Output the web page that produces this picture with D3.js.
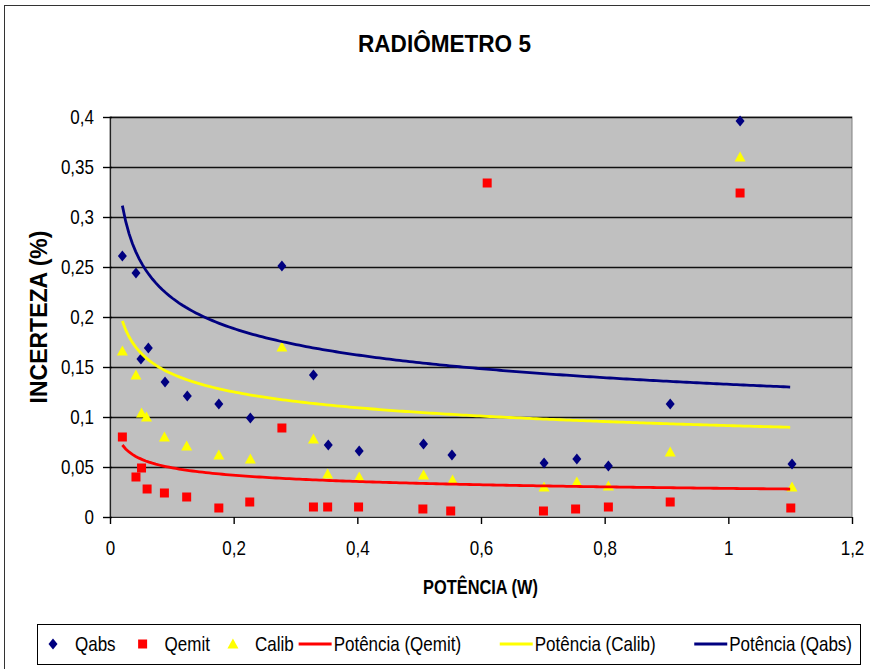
<!DOCTYPE html>
<html>
<head>
<meta charset="utf-8">
<script src="https://cdnjs.cloudflare.com/ajax/libs/d3/7.8.5/d3.min.js"></script>
<style>
body { margin: 0; background: #fff; }
text { font-family: "Liberation Sans", Arial, sans-serif; fill: #000; }
</style>
</head>
<body>
<div id="chart"></div>
<script>
// data
var potQabs = [0.020, 0.042, 0.050, 0.062, 0.089, 0.125, 0.176, 0.227, 0.278, 0.329, 0.353, 0.403, 0.507, 0.553, 0.702, 0.755, 0.806, 0.906, 1.019, 1.103];
var qabs    = [0.261, 0.244, 0.158, 0.169, 0.135, 0.121, 0.113, 0.099, 0.251, 0.142, 0.072, 0.066, 0.073, 0.062, 0.054, 0.058, 0.051, 0.113, 0.396, 0.053];

var potCalib = [0.020, 0.042, 0.051, 0.059, 0.088, 0.124, 0.176, 0.227, 0.278, 0.329, 0.352, 0.403, 0.507, 0.554, 0.702, 0.755, 0.806, 0.906, 1.019, 1.103];
var calib    = [0.166, 0.142, 0.104, 0.100, 0.080, 0.071, 0.062, 0.058, 0.170, 0.078, 0.043, 0.040, 0.042, 0.037, 0.030, 0.035, 0.031, 0.065, 0.360, 0.030];

var potQemit = [0.020, 0.042, 0.051, 0.060, 0.088, 0.124, 0.176, 0.226, 0.278, 0.329, 0.352, 0.402, 0.506, 0.551, 0.610, 0.701, 0.753, 0.806, 0.906, 1.019, 1.101];
var qemit    = [0.080, 0.040, 0.049, 0.028, 0.024, 0.020, 0.009, 0.015, 0.089, 0.010, 0.010, 0.010, 0.008, 0.006, 0.334, 0.006, 0.008, 0.010, 0.015, 0.324, 0.009];

// power trend lines (y = a * x^b), coefficients
var trendNames = ["Potência (Qemit)", "Potência (Calib)", "Potência (Qabs)"];
var trendA = [0.0286, 0.0914, 0.1327];
var trendB = [-0.236, -0.195, -0.218];
var trendRange = [0.02, 1.1];

var xTicks = [0, 0.2, 0.4, 0.6, 0.8, 1, 1.2];
var xTickLabels = ["0", "0,2", "0,4", "0,6", "0,8", "1", "1,2"];
var yTicks = [0, 0.05, 0.1, 0.15, 0.2, 0.25, 0.3, 0.35, 0.4];
var yTickLabels = ["0", "0,05", "0,1", "0,15", "0,2", "0,25", "0,3", "0,35", "0,4"];

// Set up SVG chart
var svgWidth = 870;
var svgHeight = 669;
var plot = {left: 110, top: 117, right: 852, bottom: 517};

var svg = d3.select("#chart").append("svg")
    .attr("width", svgWidth)
    .attr("height", svgHeight);

// chart area frame (cropped on the right and bottom like the picture)
svg.append("rect")
    .attr("x", 4.5).attr("y", 5.5)
    .attr("width", 900).attr("height", 700)
    .attr("fill", "#fff")
    .attr("stroke", "#333");

var xScale = d3.scaleLinear().domain([0, 1.2]).range([plot.left, plot.right]);
var yScale = d3.scaleLinear().domain([0, 0.4]).range([plot.bottom, plot.top]);

function addText(parent, x, y, str, size, weight, anchor, sx, rot) {
    var t = `translate(${x},${y})`;
    if (rot) t += ` rotate(${rot})`;
    t += ` scale(${sx},1)`;
    return parent.append("text")
        .attr("transform", t)
        .attr("text-anchor", anchor)
        .style("font-size", size + "px")
        .style("font-weight", weight)
        .text(str);
}

// plot background
svg.append("rect")
    .attr("x", plot.left).attr("y", plot.top)
    .attr("width", plot.right - plot.left).attr("height", plot.bottom - plot.top)
    .attr("fill", "#c0c0c0")
    .attr("stroke", "#808080");

// gridlines
svg.append("g")
    .attr("class", "grid")
    .attr("transform", `translate(${plot.left},0)`)
    .call(d3.axisLeft(yScale).tickValues(yTicks.slice(1)).tickSize(-(plot.right - plot.left)).tickFormat(""))
    .call(function (g) {
        g.select(".domain").remove();
        g.selectAll("line").attr("stroke", "#111").attr("stroke-width", 1.5);
    });

// axes
var xAxis = d3.axisBottom(xScale)
    .tickValues(xTicks)
    .tickFormat(function (d, i) { return xTickLabels[i]; })
    .tickSizeInner(7).tickSizeOuter(0);
var yAxis = d3.axisLeft(yScale)
    .tickValues(yTicks)
    .tickFormat(function (d, i) { return yTickLabels[i]; })
    .tickSizeInner(7).tickSizeOuter(0);

svg.append("g")
    .attr("class", "x-axis")
    .attr("transform", `translate(0,${plot.bottom})`)
    .call(xAxis)
    .call(function (g) {
        g.select(".domain").attr("stroke", "#222").attr("stroke-width", 1.2);
        g.selectAll(".tick line").attr("stroke", "#000").attr("stroke-width", 1.4);
        g.selectAll(".tick text")
            .attr("y", 24)
            .attr("transform", "scale(0.85,1)")
            .style("font-size", "20px")
            .attr("fill", "#000");
    });

svg.append("g")
    .attr("class", "y-axis")
    .attr("transform", `translate(${plot.left},0)`)
    .call(yAxis)
    .call(function (g) {
        g.select(".domain").attr("stroke", "#222").attr("stroke-width", 1.2);
        g.selectAll(".tick line").attr("x1", 2).attr("stroke", "#000").attr("stroke-width", 1.4);
        g.selectAll(".tick text")
            .attr("x", -16 / 0.85)
            .attr("transform", "scale(0.85,1)")
            .style("font-size", "20px")
            .attr("fill", "#000");
    });

// marker shapes
var markerPath = {
    diamond: "M0,-5.5L4.5,0L0,5.5L-4.5,0Z",
    square: "M-4.5,-4.5H4.5V4.5H-4.5Z",
    triangle: "M0,-5.5L5.5,4.5L-5.5,4.5Z"
};

var series = [
    {name: "Qabs",  xs: potQabs,  ys: qabs,  shape: "diamond",  color: "#000080"},
    {name: "Qemit", xs: potQemit, ys: qemit, shape: "square",   color: "#ff0000"},
    {name: "Calib", xs: potCalib, ys: calib, shape: "triangle", color: "#ffff00"}
];

var chart = svg.append("g");

series.forEach(function (s) {
    chart.append("g").selectAll("path")
        .data(s.xs.map(function (x, i) { return [x, s.ys[i]]; }))
        .enter()
        .append("path")
        .attr("d", markerPath[s.shape])
        .attr("transform", function (d) { return `translate(${xScale(d[0])},${yScale(d[1])})`; })
        .attr("fill", s.color);
});

// trend lines
var trendColors = ["#ff0000", "#ffff00", "#000080"];
var line = d3.line()
    .x(function (d) { return xScale(d[0]); })
    .y(function (d) { return yScale(d[1]); });

trendA.forEach(function (a, i) {
    var pts = d3.range(0, 201).map(function (k) {
        var x = trendRange[0] + (trendRange[1] - trendRange[0]) * k / 200;
        return [x, a * Math.pow(x, trendB[i])];
    });
    chart.append("path")
        .attr("d", line(pts))
        .attr("fill", "none")
        .attr("stroke", trendColors[i])
        .attr("stroke-width", 2.8);
});

// titles
addText(svg, 444.5, 52, "RADIÔMETRO 5", 24, "bold", "middle", 0.94);
addText(svg, 480.5, 594, "POTÊNCIA (W)", 21, "bold", "middle", 0.78);
addText(svg, 47, 317, "INCERTEZA (%)", 23, "bold", "middle", 1, -90);

// legend
var legendBox = {x: 37, y: 624, w: 823, h: 40};
var legend = svg.append("g").attr("class", "legend");
legend.append("rect")
    .attr("x", legendBox.x + 0.5).attr("y", legendBox.y + 0.5)
    .attr("width", legendBox.w).attr("height", legendBox.h)
    .attr("fill", "#fff").attr("stroke", "#000");

var legendItems = [
    {label: "Qabs",  shape: "diamond",  color: "#000080"},
    {label: "Qemit", shape: "square",   color: "#ff0000"},
    {label: "Calib", shape: "triangle", color: "#ffff00"},
    {label: trendNames[0], line: true, color: trendColors[0]},
    {label: trendNames[1], line: true, color: trendColors[1]},
    {label: trendNames[2], line: true, color: trendColors[2]}
];

var legSx = 0.85;
var legY = legendBox.y + legendBox.h / 2;
var texts = legendItems.map(function (it) {
    return addText(legend, 0, legY + 7, it.label, 20, "normal", "start", legSx);
});
var widths = texts.map(function (t) { return t.node().getComputedTextLength() * legSx; });

// gaps before each following entry; the last two fill out to the right end
var gaps = [22, 18, 5];
var startX = 48, endX = 852;
var used = startX;
legendItems.forEach(function (it, i) { used += (it.line ? 35 : 27) + widths[i]; });
gaps.forEach(function (g) { used += g; });
var fill = (endX - used) / 2;
gaps.push(fill, fill);

var cx = startX;
legendItems.forEach(function (it, i) {
    var tx;
    if (it.line) {
        legend.append("line")
            .attr("x1", cx).attr("x2", cx + 33)
            .attr("y1", legY).attr("y2", legY)
            .attr("stroke", it.color).attr("stroke-width", 2.8);
        tx = cx + 35;
    } else {
        legend.append("path")
            .attr("d", markerPath[it.shape])
            .attr("transform", `translate(${cx + 5},${legY})`)
            .attr("fill", it.color);
        tx = cx + 27;
    }
    texts[i].attr("transform", `translate(${tx},${legY + 7}) scale(${legSx},1)`);
    cx = tx + widths[i] + gaps[i];
});
</script>
</body>
</html>
